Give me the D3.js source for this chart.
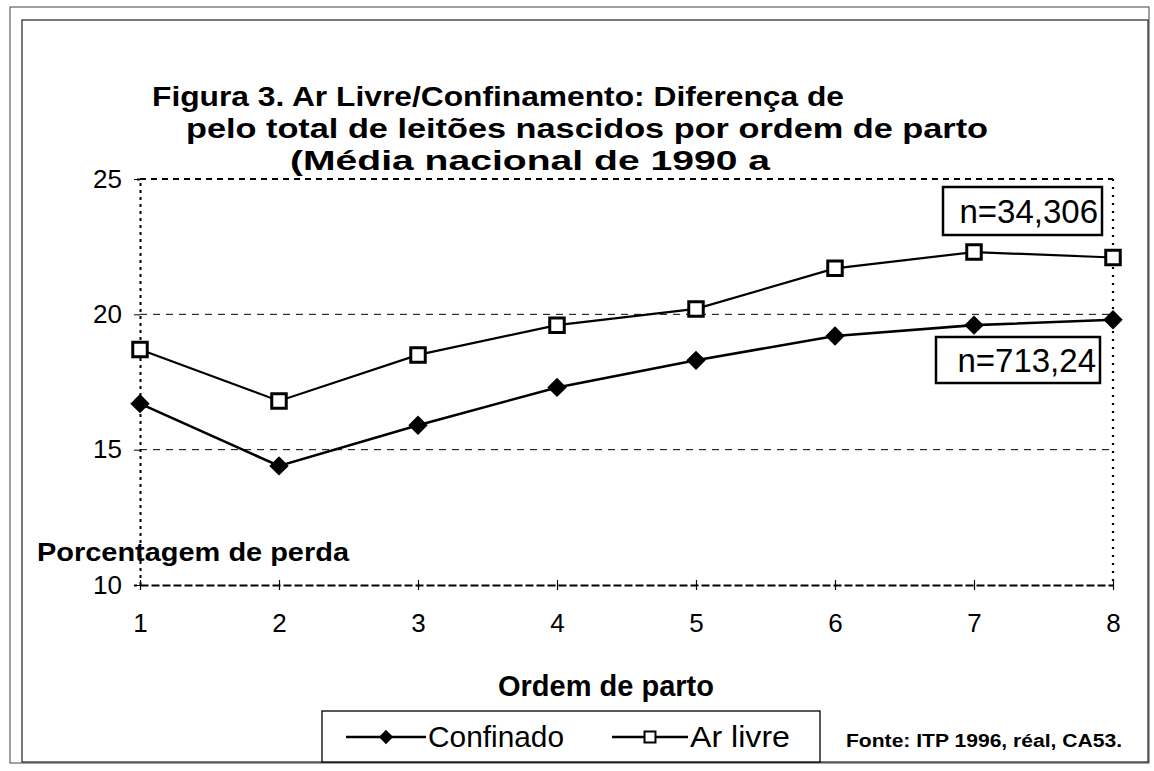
<!DOCTYPE html>
<html>
<head>
<meta charset="utf-8">
<script src="https://cdn.jsdelivr.net/npm/d3@7"></script>
<style>
  body { margin: 0; background: #fff; }
  svg text { font-family: Arial, "Liberation Sans", sans-serif; fill: #000; }
</style>
</head>
<body>
<div id="chart"></div>
<script>
// data
const ordens = [1, 2, 3, 4, 5, 6, 7, 8];
const confinado = [16.7, 14.4, 15.9, 17.3, 18.3, 19.2, 19.6, 19.8];
const arLivre = [18.7, 16.8, 18.5, 19.6, 20.2, 21.7, 22.3, 22.1];
const yTicks = [10, 15, 20, 25];
const titleLines = [
  'Figura 3. Ar Livre/Confinamento: Diferença de',
  'pelo total de leitões nascidos por ordem de parto',
  '(Média nacional de 1990 a'
];

const W = 1154, H = 771;

const svg = d3.select('#chart').append('svg')
  .attr('width', W)
  .attr('height', H);

// frame (scan shows a double border on the left/top)
svg.append('rect')
  .attr('x', 10).attr('y', 7).attr('width', 1139).attr('height', 756)
  .attr('fill', 'none').attr('stroke', '#444').attr('stroke-width', 1);
svg.append('rect')
  .attr('x', 22).attr('y', 20).attr('width', 1126).attr('height', 742)
  .attr('fill', 'none').attr('stroke', '#222').attr('stroke-width', 1.2);

// title
const titleX = [152, 186, 290];
const titleLen = [692, 802, 480];
svg.selectAll('.title')
  .data(titleLines)
  .enter()
  .append('text')
  .attr('class', 'title')
  .attr('x', (d, i) => titleX[i])
  .attr('y', (d, i) => 106 + i * 32)
  .attr('textLength', (d, i) => titleLen[i])
  .attr('lengthAdjust', 'spacingAndGlyphs')
  .style('font-size', '28px')
  .style('font-weight', 'bold')
  .text((d) => d);

const x = d3.scaleLinear().domain([1, 8]).range([140, 1113]);
const y = d3.scaleLinear().domain([10, 25]).range([585, 179]);

// gridlines
svg.append('g')
  .selectAll('line')
  .data(yTicks.filter((d) => d > 10))
  .enter()
  .append('line')
  .attr('x1', x(1)).attr('x2', x(8))
  .attr('y1', (d) => y(d)).attr('y2', (d) => y(d))
  .attr('stroke', '#000')
  .attr('stroke-width', (d) => (d === 25 ? 2 : 1))
  .attr('stroke-dasharray', (d) => (d === 25 ? '6,5' : '7,6'));

// right border, dotted
svg.append('line')
  .attr('x1', x(8)).attr('x2', x(8))
  .attr('y1', y(25)).attr('y2', y(10))
  .attr('stroke', '#000').attr('stroke-width', 2.2)
  .attr('stroke-dasharray', '2,6');

// y axis
const yAxis = svg.append('g')
  .attr('transform', `translate(${x(1)},0)`)
  .call(d3.axisLeft(y).tickValues(yTicks).tickSize(6).tickPadding(12));
yAxis.select('.domain').attr('stroke', '#000').attr('stroke-width', 2)
  .attr('stroke-dasharray', '3,4');
yAxis.selectAll('text').style('font-size', '26px');

// x axis
const xAxis = svg.append('g')
  .attr('transform', `translate(0,${y(10)})`)
  .call(d3.axisBottom(x).tickValues(ordens).tickFormat(d3.format('d'))
    .tickSizeInner(5).tickSizeOuter(0).tickPadding(24));
xAxis.select('.domain').attr('stroke', '#000').attr('stroke-width', 2)
  .attr('stroke-dasharray', '8,3');
xAxis.selectAll('.tick line').attr('y1', -5).attr('stroke-width', 1.2);
xAxis.selectAll('text').style('font-size', '26px');

// axis titles
svg.append('text')
  .attr('x', 37).attr('y', 561)
  .attr('textLength', 312).attr('lengthAdjust', 'spacingAndGlyphs')
  .style('font-size', '25px').style('font-weight', 'bold')
  .text('Porcentagem de perda');

svg.append('text')
  .attr('x', 606).attr('y', 696)
  .attr('text-anchor', 'middle')
  .style('font-size', '29px').style('font-weight', 'bold')
  .text('Ordem de parto');

// lines
const line = d3.line()
  .x((d, i) => x(ordens[i]))
  .y((d) => y(d));

svg.append('path')
  .datum(confinado)
  .attr('d', line)
  .attr('fill', 'none').attr('stroke', '#000').attr('stroke-width', 2.6);

svg.append('path')
  .datum(arLivre)
  .attr('d', line)
  .attr('fill', 'none').attr('stroke', '#000').attr('stroke-width', 2.2);

const diamond = d3.symbol().type(d3.symbolDiamond2).size(240);
const square = d3.symbol().type(d3.symbolSquare).size(210);

svg.append('g')
  .selectAll('path')
  .data(confinado)
  .enter()
  .append('path')
  .attr('d', diamond)
  .attr('transform', (d, i) => `translate(${x(ordens[i])},${y(d)})`)
  .attr('fill', '#000');

svg.append('g')
  .selectAll('path')
  .data(arLivre)
  .enter()
  .append('path')
  .attr('d', square)
  .attr('transform', (d, i) => `translate(${x(ordens[i])},${y(d)})`)
  .attr('fill', '#fff').attr('stroke', '#000').attr('stroke-width', 3);

// n= labels
const nLabels = [
  { text: 'n=34,306', x: 943, y: 187, w: 159, h: 48 },
  { text: 'n=713,24', x: 936, y: 337, w: 164, h: 46 }
];
const nl = svg.append('g').selectAll('g')
  .data(nLabels)
  .enter()
  .append('g');
nl.append('rect')
  .attr('x', (d) => d.x).attr('y', (d) => d.y)
  .attr('width', (d) => d.w).attr('height', (d) => d.h)
  .attr('fill', '#fff').attr('stroke', '#000').attr('stroke-width', 2.5);
nl.append('text')
  .attr('x', (d) => d.x + d.w - 4).attr('y', (d) => d.y + d.h / 2 + 12)
  .attr('text-anchor', 'end')
  .style('font-size', '33px')
  .text((d) => d.text);

// legend
const legend = svg.append('g');
legend.append('rect')
  .attr('x', 322).attr('y', 711).attr('width', 498).attr('height', 51)
  .attr('fill', '#fff').attr('stroke', '#000').attr('stroke-width', 1.3);

const legendItems = [
  { name: 'Confinado', x0: 346, w: 80, tl: 136, fill: '#000', sw: 0 },
  { name: 'Ar livre', x0: 612, w: 76, tl: 100, fill: '#fff', sw: 2 }
];
const li = legend.selectAll('.li')
  .data(legendItems)
  .enter()
  .append('g')
  .attr('class', 'li')
  .attr('transform', (d) => `translate(${d.x0},737)`);
li.append('line')
  .attr('x1', 0).attr('x2', (d) => d.w)
  .attr('stroke', '#000').attr('stroke-width', 2.5);
li.append('path')
  .attr('d', (d, i) => (i === 0 ? d3.symbol().type(d3.symbolDiamond2).size(130)() : d3.symbol().type(d3.symbolSquare).size(120)()))
  .attr('transform', (d) => `translate(${d.w / 2},0)`)
  .attr('fill', (d) => d.fill)
  .attr('stroke', '#000').attr('stroke-width', (d) => d.sw);
li.append('text')
  .attr('x', (d) => d.w + 2).attr('y', 10)
  .attr('textLength', (d) => d.tl).attr('lengthAdjust', 'spacingAndGlyphs')
  .style('font-size', '29px')
  .text((d) => d.name);

// source note
svg.append('text')
  .attr('x', 846).attr('y', 747)
  .attr('textLength', 276).attr('lengthAdjust', 'spacingAndGlyphs')
  .style('font-size', '18px').style('font-weight', 'bold')
  .text('Fonte: ITP 1996,  réal, CA53.');
</script>
</body>
</html>
